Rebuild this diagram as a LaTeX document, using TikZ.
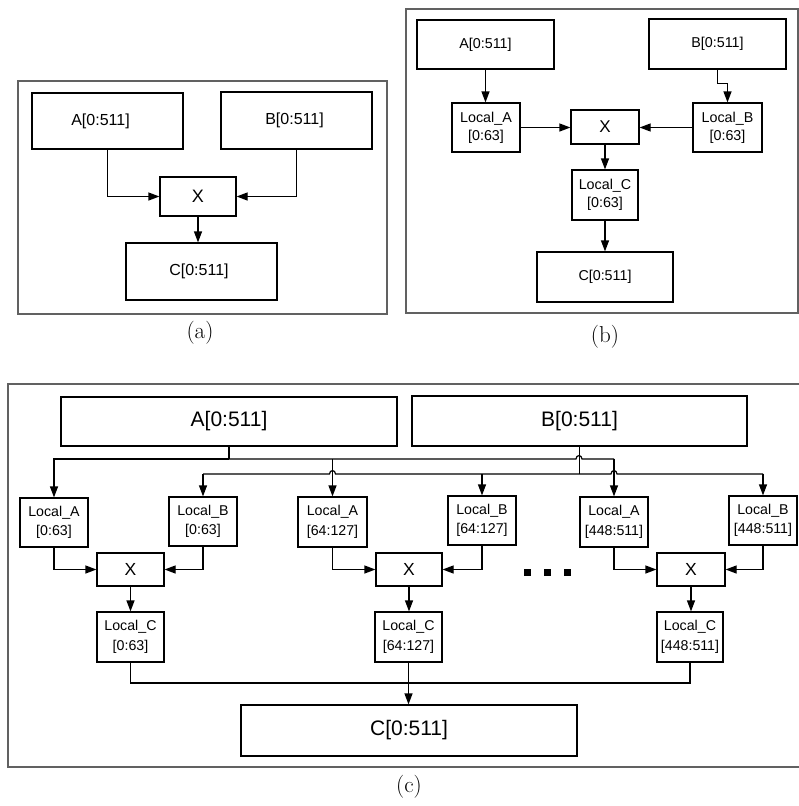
\documentclass[tikz,border=0pt]{standalone}
\usepackage{fontspec}
\setsansfont{Liberation Sans}
\usetikzlibrary{arrows.meta,calc}
\tikzset{
  box/.style={draw, line width=1.2pt, inner sep=0pt, align=center, font=\sffamily},
  frm/.style={draw=black!62, line width=1.3pt},
  wire/.style={line width=1.2pt},
  arr/.style={wire, -{Triangle[length=11pt,width=8pt]}},
  captxt/.style={font=\fontsize{23}{25}\selectfont},
  fa/.style={font=\sffamily\fontsize{16}{18}\selectfont},
  fb/.style={font=\sffamily\fontsize{14.3}{18}\selectfont},
  fbig/.style={font=\sffamily\fontsize{21}{24}\selectfont},
  fx/.style={font=\sffamily\fontsize{17.5}{20}\selectfont},
  floc/.style={font=\sffamily\fontsize{14.2}{19.5}\selectfont},
}
\begin{document}
\begin{tikzpicture}[x=1pt,y=-1pt]
\useasboundingbox (0,0) rectangle (799,806);
% ---------------- (a)
\draw[frm] (18,81) rectangle (387,314);
\node[box,fa,minimum width=151,minimum height=56] (aA) at (107.5,121) {A[0:511]\hspace*{14pt}};
\node[box,fa,minimum width=151,minimum height=57] (aB) at (296.5,120.5) {B[0:511]\hspace*{4pt}};
\node[box,fa,minimum width=76,minimum height=39,font=\sffamily\fontsize{18}{20}\selectfont] (aX) at (198,196.5) {X};
\node[box,fa,minimum width=151,minimum height=57] (aC) at (201.5,271.5) {C[0:511]\hspace*{5pt}};
\draw[arr] (aA.south) |- (aX.west);
\draw[arr] (aB.south) |- (aX.east);
\draw[arr] (aX.south) -- (aX.south |- aC.north);
\node[captxt] (capa) at (200,333) {(a)};
% ---------------- (b)
\draw[frm] (406,9) rectangle (798,313);
\node[box,fb,minimum width=137,minimum height=49] (bA) at (485.5,44.5) {A[0:511]};
\node[box,fb,minimum width=137,minimum height=50] (bB) at (717.5,44) {B[0:511]};
\node[box,fb,minimum width=68,minimum height=49] (bLA) at (486,127.5) {Local\_A\\{}[0:63]};
\node[box,fb,minimum width=69,minimum height=49] (bLB) at (727.5,127.5) {Local\_B\\{}[0:63]};
\node[box,minimum width=68,minimum height=34,font=\sffamily\fontsize{17}{20}\selectfont] (bX) at (605,127) {X};
\node[box,fb,minimum width=66,minimum height=50] (bLC) at (605,195) {Local\_C\\{}[0:63]};
\node[box,fb,minimum width=136,minimum height=50] (bC) at (605,277) {C[0:511]};
\draw[arr] (bA.south) -- (bA.south |- bLA.north);
\draw[arr] (bB.south) -- ++(0,14) -| (bLB.north);
\draw[arr] (bLA.east) -- (bLA.east -| bX.west);
\draw[arr] (bLB.west) -- (bLB.west -| bX.east);
\draw[arr] (bX.south) -- (bLC.north);
\draw[arr] (bLC.south) -- (bLC.south |- bC.north);
\node[captxt] (capb) at (605,337) {(b)};
% ---------------- (c)
\draw[frm] (8,384) rectangle (803,767);
\node[box,fbig,minimum width=336,minimum height=49] (cA) at (229,421.5) {A[0:511]};
\node[box,fbig,minimum width=335,minimum height=50] (cB) at (579.5,421) {B[0:511]};
\node[box,floc,minimum width=68,minimum height=49] (cLA0) at (54,522.5) {Local\_A\\{}[0:63]};
\node[box,floc,minimum width=68,minimum height=49] (cLB0) at (203,521.5) {Local\_B\\{}[0:63]};
\node[box,floc,minimum width=69,minimum height=50] (cLA1) at (332.5,522) {Local\_A\\{}[64:127]};
\node[box,floc,minimum width=68,minimum height=49] (cLB1) at (482,520.5) {Local\_B\\{}[64:127]};
\node[box,floc,minimum width=68,minimum height=50] (cLA2) at (614,522) {Local\_A\\{}[448:511]};
\node[box,floc,minimum width=68,minimum height=49] (cLB2) at (763,520.5) {Local\_B\\{}[448:511]};
\node[box,fx,minimum width=67,minimum height=33] (cX0) at (130.5,569.5) {X};
\node[box,fx,minimum width=66,minimum height=33] (cX1) at (409,569.5) {X};
\node[box,fx,minimum width=68,minimum height=33] (cX2) at (691,569.5) {X};
\node[box,floc,minimum width=67,minimum height=50] (cLC0) at (130.5,637) {Local\_C\\{}[0:63]};
\node[box,floc,minimum width=67,minimum height=50] (cLC1) at (408.5,637) {Local\_C\\{}[64:127]};
\node[box,floc,minimum width=66,minimum height=50] (cLC2) at (690,637) {Local\_C\\{}[448:511]};
\node[box,fbig,minimum width=336,minimum height=51] (cC) at (409,730.5) {C[0:511]};
% dots
\fill (523.5,568.5) rectangle ++(7,7);
\fill (543.5,568.5) rectangle ++(7,7);
\fill (563.5,568.5) rectangle ++(7,7);
% A bus
\coordinate (abus) at (229,459);
\coordinate (ah1) at (576,459);
\coordinate (ah2) at (582,459);
\coordinate (aend) at (614,459);
\draw[wire] (cA.south) -- (abus);
\draw[arr] (abus) -| (cLA0.north);
\draw[wire] (abus) -- (ah1) .. controls ($(ah1)+(0,-4.5)$) and ($(ah2)+(0,-4.5)$) .. (ah2) -- (aend);
\draw[arr] (aend) -- (cLA2.north);
\draw[arr] (abus -| cLA1.north) -- (cLA1.north);
% B bus
\coordinate (bbus) at (579.5,474);
\coordinate (bl) at (203,474);
\coordinate (bh1) at (329.5,474);
\coordinate (bh2) at (335.5,474);
\coordinate (bh3) at (611,474);
\coordinate (bh4) at (617,474);
\coordinate (br) at (763,474);
\draw[wire] (cB.south) -- (bbus);
\draw[wire] (bl) -- (bh1) .. controls ($(bh1)+(0,-4.5)$) and ($(bh2)+(0,-4.5)$) .. (bh2)
  -- (bh3) .. controls ($(bh3)+(0,-4.5)$) and ($(bh4)+(0,-4.5)$) .. (bh4) -- (br);
\draw[arr] (bl) -- (cLB0.north);
\draw[arr] (bl -| cLB1.north) -- (cLB1.north);
\draw[arr] (br) -- (cLB2.north);
% locals to X
\draw[arr] (cLA0.south) |- (cX0.west);
\draw[arr] (cLB0.south) |- (cX0.east);
\draw[arr] (cLA1.south) |- (cX1.west);
\draw[arr] (cLB1.south) |- (cX1.east);
\draw[arr] (cLA2.south) |- (cX2.west);
\draw[arr] (cLB2.south) |- (cX2.east);
\draw[arr] (cX0.south) -- (cLC0.north);
\draw[arr] (cX1.south) -- (cX1.south |- cLC1.north);
\draw[arr] (cX2.south) -- (cX2.south |- cLC2.north);
% merge
\coordinate (mrg) at (408.5,683);
\draw[wire] (cLC0.south) |- (mrg);
\draw[wire] (cLC2.south) |- (mrg);
\draw[arr] (cLC1.south) -- (cLC1.south |- cC.north);
\node[captxt] (capc) at (409,787) {(c)};
\end{tikzpicture}
\end{document}
